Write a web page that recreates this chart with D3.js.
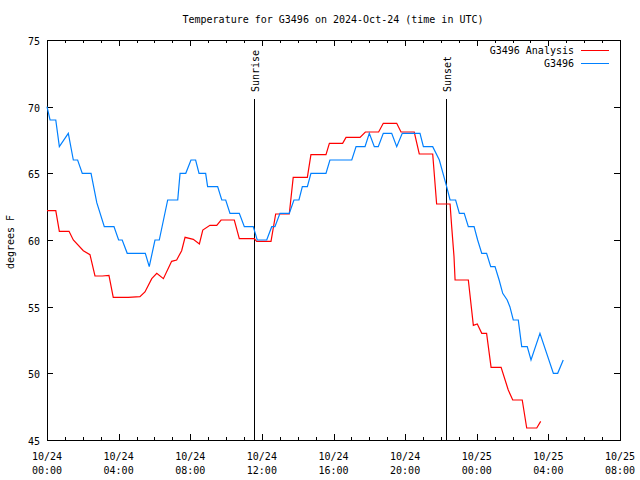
<!DOCTYPE html>
<html><head><meta charset="utf-8">
<script src="https://cdn.jsdelivr.net/npm/d3@7"></script>
<style>
body{margin:0;background:#fff;}
svg{display:block;}
text{font-family:"DejaVu Sans Mono",monospace;font-size:10px;fill:#000;}
</style></head><body>
<svg id="c" width="640" height="480"></svg>
<script>
const titleText = "Temperature for G3496 on 2024-Oct-24 (time in UTC)";
const yLabel = "degrees F";
const seriesNames = ["G3496 Analysis", "G3496"];
const seriesColors = ["#ff0000", "#0080ff"];
const yTicks = [45, 50, 55, 60, 65, 70, 75];
const xTickHours = [0, 4, 8, 12, 16, 20, 24, 28, 32];
const xTickLabels = [["10/24","00:00"],["10/24","04:00"],["10/24","08:00"],["10/24","12:00"],["10/24","16:00"],["10/24","20:00"],["10/25","00:00"],["10/25","04:00"],["10/25","08:00"]];
const sunEvents = [{name:"Sunrise", hour:11.55}, {name:"Sunset", hour:22.3}];

// hours since 10/24 00:00 UTC
const analysisHours = [0,0.49,0.69,1.23,1.47,2.03,2.4,2.68,3.09,3.46,3.7,4.54,5.19,5.47,5.85,6.13,6.5,6.96,7.24,7.52,7.71,8.17,8.51,8.7,9.1,9.48,9.72,10.46,10.74,11.58,11.71,12.51,12.77,13.53,13.75,14.54,14.74,15.58,15.77,16.51,16.7,17.48,17.78,18.52,18.78,19.53,19.77,20.51,20.79,21.54,21.76,22.51,22.6,22.73,22.79,23.53,23.81,24.03,24.28,24.55,24.8,25.36,25.76,26.01,26.54,26.79,27.35,27.57];
const analysisTemps = [62.2,62.2,60.65,60.65,60,59.2,58.9,57.3,57.3,57.35,55.7,55.7,55.75,56.1,57.1,57.5,57.1,58.4,58.5,59.2,60.2,60.05,59.7,60.75,61.1,61.1,61.5,61.5,60.1,60.1,59.9,59.9,61.95,61.95,64.7,64.7,66.4,66.4,67.25,67.25,67.7,67.7,68.1,68.1,68.75,68.75,68.1,68.1,66.45,66.45,62.7,62.7,61,58.75,57,57,53.6,53.7,53,53,50.45,50.45,48.75,48,48,45.9,45.9,46.4];

const obsHours = [0,0.17,0.49,0.69,1.19,1.47,1.71,1.97,2.46,2.78,3.2,3.74,4.0,4.2,4.48,5.49,5.71,6.03,6.27,6.74,7.3,7.43,7.75,8.04,8.3,8.49,8.86,8.97,9.53,9.76,9.98,10.22,10.74,11.02,11.52,11.74,12.27,12.55,12.73,13.01,13.53,13.79,14.07,14.26,14.54,14.74,15.58,15.8,17.02,17.26,17.76,18.0,18.28,18.5,18.78,19.25,19.53,19.84,20.83,21.02,21.54,21.91,22.32,22.51,22.82,23.03,23.3,23.53,23.85,24.05,24.28,24.55,24.78,25.02,25.25,25.45,25.7,25.85,26.04,26.32,26.51,26.82,27.03,27.53,28.28,28.52,28.83];
const obsTemps = [70,69,69,67,68,66,66,65,65,62.8,61,61,60,60,59,59,58,60,60,63,63,65,65,66,66,65,65,64,64,63,63,62,62,61,61,60,60,61,61,62,62,63,63,64,64,65,65,66,66,67,67,68,67,67,68,68,67,68,68,67,67,66,64,63,63,62,62,61,61,60,59,59,58,58,57,56,55.5,55,54,54,52,52,51,53,50,50,51];

const L = 47, R = 620, T = 40, B = 440;
const svg = d3.select("#c");
const x = d3.scaleLinear().domain([0, 32]).range([L, R]);
const y = d3.scaleLinear().domain([45, 75]).range([B, T]);

// title
svg.append("text").attr("x", 333).attr("y", 23).attr("text-anchor", "middle").text(titleText);
// y label
svg.append("text").attr("transform", "translate(14,242) rotate(-90)").attr("text-anchor", "middle").text(yLabel);

const g = svg.append("g").attr("shape-rendering", "crispEdges");

// ticks
const minor = d3.range(0, 33, 1);
minor.forEach(h => {
  const major = h % 4 === 0;
  const len = major ? 6 : 3;
  const xx = Math.round(x(h)) + 0.5;
  g.append("line").attr("x1", xx).attr("x2", xx).attr("y1", B).attr("y2", B - len).attr("stroke", "#000");
  g.append("line").attr("x1", xx).attr("x2", xx).attr("y1", T).attr("y2", T + len).attr("stroke", "#000");
});
yTicks.forEach(v => {
  const yy = Math.round(y(v)) + 0.5;
  g.append("line").attr("x1", L).attr("x2", L + 6).attr("y1", yy).attr("y2", yy).attr("stroke", "#000");
  g.append("line").attr("x1", R).attr("x2", R - 6).attr("y1", yy).attr("y2", yy).attr("stroke", "#000");
  svg.append("text").attr("x", 40).attr("y", yy + 4).attr("text-anchor", "end").text(v);
});
xTickHours.forEach((h, i) => {
  const t = svg.append("text").attr("x", x(h)).attr("y", 460).attr("text-anchor", "middle");
  t.append("tspan").attr("x", x(h)).attr("dy", 0).text(xTickLabels[i][0]);
  t.append("tspan").attr("x", x(h)).attr("dy", 14).text(xTickLabels[i][1]);
});

// sun lines
sunEvents.forEach(s => {
  const xx = Math.round(x(s.hour)) + 0.5;
  g.append("line").attr("x1", xx).attr("x2", xx).attr("y1", 99).attr("y2", B).attr("stroke", "#000");
  svg.append("text").attr("transform", `translate(${xx + 4},92) rotate(-90)`).attr("text-anchor", "start").text(s.name);
});

// data lines
const line = d3.line().x(d => x(d[0])).y(d => y(d[1]));
const analysis = analysisHours.map((h, i) => [h, analysisTemps[i]]);
const obs = obsHours.map((h, i) => [h, obsTemps[i]]);
svg.append("path").datum(analysis).attr("d", line).attr("fill", "none").attr("stroke", seriesColors[0]).attr("stroke-width", 1.2);
svg.append("path").datum(obs).attr("d", line).attr("fill", "none").attr("stroke", seriesColors[1]).attr("stroke-width", 1.2);

// border
g.append("rect").attr("x", L + 0.5).attr("y", T + 0.5).attr("width", R - L).attr("height", B - T).attr("fill", "none").attr("stroke", "#000");

// legend
seriesNames.forEach((n, i) => {
  const yy = 50 + i * 13;
  svg.append("text").attr("x", 574).attr("y", yy + 4).attr("text-anchor", "end").text(n);
  g.append("line").attr("x1", 581).attr("x2", 609).attr("y1", yy + 0.5).attr("y2", yy + 0.5).attr("stroke", seriesColors[i]);
});
</script></body></html>
